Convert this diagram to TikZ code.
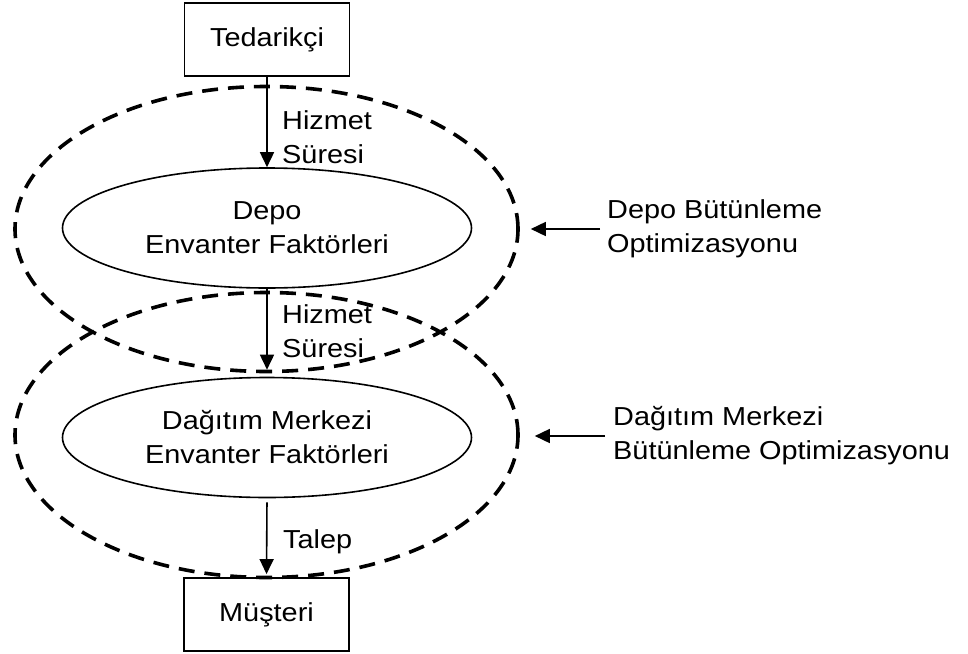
\documentclass[tikz,border=0pt]{standalone}
\usepackage{fontspec}
\setmainfont{Liberation Sans}[FakeStretch=1.11]
\usetikzlibrary{arrows.meta,shapes.geometric}
\begin{document}
\begin{tikzpicture}[x=1pt,y=-1pt,
  every node/.style={font=\fontsize{26}{34}\selectfont},
  box/.style={draw,line width=1.8pt,rectangle,minimum width=165pt,minimum height=73pt,inner sep=0pt},
  factor/.style={draw,line width=1.6pt,ellipse,minimum width=409pt,minimum height=120pt,inner sep=0pt,align=center},
  group/.style={draw,line width=3.6pt,dash pattern=on 16pt off 10pt,ellipse,minimum width=503pt,minimum height=285pt,inner sep=0pt},
  lbl/.style={inner sep=0pt,align=left},
  arr/.style={line width=1.6pt,-{Triangle[length=15pt,width=14pt]}}]
\useasboundingbox (0,0) rectangle (968,653);

% stock points of the chain
\node[box] (sup) at (267,39.5) {Tedarikçi};
\node[factor] (dep) at (267,228) {Depo\\Envanter Faktörleri};
\node[factor] (dag) at (267,437.5) {Dağıtım Merkezi\\Envanter Faktörleri};
\node[box] (cus) at (266.5,614.5) {Müşteri};

% optimisation scopes
\node[group] (g1) at (266.5,229) {};
\node[group] (g2) at (266.5,435) {};

% flows between the stock points
\draw[arr] (sup.south) -- (dep.north);
\draw[arr,shorten >=7pt] (dep.south) -- (dag.north);
\draw[arr,shorten <=4pt,shorten >=3pt] (dag.south) -- (cus.north);

\node[lbl,anchor=west] (h1) at (282,137) {Hizmet\\Süresi};
\node[lbl,anchor=west] (h2) at (282,331) {Hizmet\\Süresi};
\node[lbl,anchor=base west] (tl) at (283,548) {Talep};

% scope captions
\node[lbl,anchor=west] (o1) at (607,229) {Depo Bütünleme\\Optimizasyonu};
\node[lbl,anchor=west] (o2) at (613,436) {Dağıtım Merkezi\\Bütünleme Optimizasyonu};
\draw[arr,shorten <=7pt,shorten >=11pt] (o1.west) -- (o1.west -| g1.east);
\draw[arr,shorten <=8pt,shorten >=15pt] (o2.west) -- (o2.west -| g2.east);
\end{tikzpicture}
\end{document}
